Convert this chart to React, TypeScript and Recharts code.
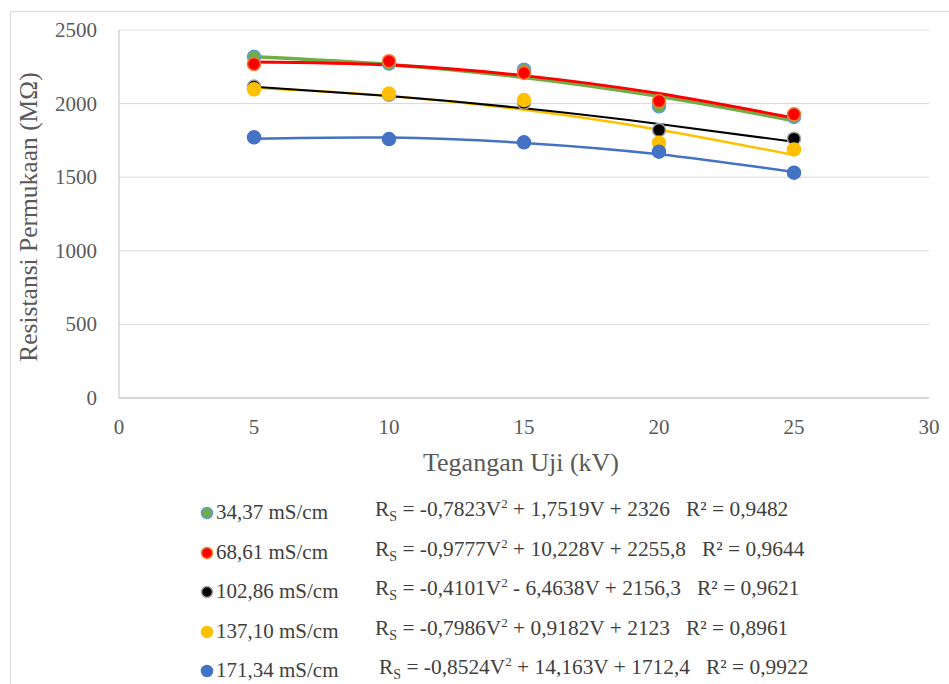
import React from "react";
import {
  ComposedChart,
  Scatter,
  Line,
  XAxis,
  YAxis,
  CartesianGrid,
} from "recharts";

// Tegangan uji (kV)
const voltages = [5, 10, 15, 20, 25];

const meas3437 = [2318, 2272, 2230, 1982, 1909];
const meas6861 = [2269, 2288, 2208, 2017, 1927];
const meas10286 = [2116, 2060, 2005, 1820, 1762];
const meas13710 = [2097, 2068, 2024, 1734, 1689];
const meas17134 = [1771, 1759, 1737, 1673, 1531];

// Polynomial trendlines, values
const trend3437 = [2318, 2266, 2178, 2049, 1884];
const trend6861 = [2282, 2262, 2190, 2068, 1902];
const trend10286 = [2114, 2051, 1968, 1862, 1740];
const trend13710 = [2107, 2052, 1958, 1823, 1650];
const trend17134 = [1762, 1769, 1733, 1656, 1535];

const xTicks = [0, 5, 10, 15, 20, 25, 30];
const yTicks = [0, 500, 1000, 1500, 2000, 2500];

const seriesLabels = [
  "34,37 mS/cm",
  "68,61 mS/cm",
  "102,86 mS/cm",
  "137,10 mS/cm",
  "171,34 mS/cm",
];
const eqCoefA = ["-0,7823", "-0,9777", "-0,4101", "-0,7986", "-0,8524"];
const eqCoefB = ["+ 1,7519", "+ 10,228", "- 6,4638", "+ 0,9182", "+ 14,163"];
const eqCoefC = ["2326", "2255,8", "2156,3", "2123", "1712,4"];
const rSquared = ["0,9482", "0,9644", "0,9621", "0,8961", "0,9922"];

const toPts = (vals: number[]) => voltages.map((x, i) => ({ x, y: vals[i] }));

const markerStyles = [
  { fill: "#70AD47", stroke: "#5B9BD5" },
  { fill: "#FF0000", stroke: "#ED7D31" },
  { fill: "#000000", stroke: "#A5A5A5" },
  { fill: "#FFC000", stroke: "#FFC000" },
  { fill: "#4472C4", stroke: "#4472C4" },
];

const measured = [meas3437, meas6861, meas10286, meas13710, meas17134];

const FONT = "Liberation Serif";
const txt = { fontFamily: FONT, fill: "#595959" };

const dot = (fill: string, stroke: string) => (props: any) => (
  <circle cx={props.cx} cy={props.cy} r={6.5} fill={fill} stroke={stroke} strokeWidth={1.5} />
);

const XTick = (props: any) => (
  <text x={props.x} y={props.y + 18} textAnchor="middle" fontSize={21} fontFamily={FONT} style={txt}>
    {props.payload.value}
  </text>
);

const YTick = (props: any) => (
  <text x={props.x - 2} y={props.y + 7} textAnchor="end" fontSize={21} fontFamily={FONT} style={txt}>
    {props.payload.value}
  </text>
);

const XTitle = (props: any) => {
  const vb = props.viewBox;
  return (
    <text x={vb.x + vb.width / 2 - 3} y={vb.y + 73} textAnchor="middle" fontSize={26} fontFamily={FONT} style={txt}>
      Tegangan Uji (kV)
    </text>
  );
};

const YTitle = (props: any) => {
  const vb = props.viewBox;
  const cy = vb.y + vb.height / 2 + 3;
  return (
    <text
      x={37}
      y={cy}
      textAnchor="middle"
      fontSize={25.5}
      fontFamily={FONT}
      style={txt}
      transform={`rotate(-90, 37, ${cy})`}
    >
      Resistansi Permukaan (MΩ)
    </text>
  );
};

export default function App() {
  return (
    <div
      style={{
        position: "absolute",
        left: 0,
        top: 0,
        width: 949,
        height: 684,
        background: "#fff",
        fontFamily: FONT,
        overflow: "hidden",
      }}
    >
      <div
        style={{
          position: "absolute",
          left: 10,
          top: 11,
          width: 960,
          height: 700,
          border: "1px solid #D9D9D9",
        }}
      />
      <ComposedChart
        width={949}
        height={684}
        margin={{ top: 30, right: 20, left: 0, bottom: 226 }}
        style={{ position: "absolute", left: 0, top: 0 }}
      >
        <CartesianGrid vertical={false} stroke="#D9D9D9" strokeWidth={1} />
        <XAxis
          type="number"
          dataKey="x"
          domain={[0, 30]}
          ticks={xTicks}
          height={60}
          axisLine={{ stroke: "#BFBFBF" }}
          tickLine={false}
          tick={<XTick />}
          tickMargin={12}
          label={<XTitle />}
        />
        <YAxis
          type="number"
          dataKey="y"
          domain={[0, 2500]}
          ticks={yTicks}
          width={119}
          axisLine={{ stroke: "#BFBFBF" }}
          tickLine={false}
          tick={<YTick />}
          tickMargin={14}
          label={<YTitle />}
        />
        {measured.map((vals, i) => (
          <Scatter
            key={"m" + i}
            data={toPts(vals)}
            dataKey="y"
            isAnimationActive={false}
            shape={dot(markerStyles[i].fill, markerStyles[i].stroke)}
          />
        ))}
        <Line data={toPts(trend17134)} dataKey="y" type="natural" stroke="#4472C4" strokeWidth={2.5} dot={false} isAnimationActive={false} />
        <Line data={toPts(trend13710)} dataKey="y" type="natural" stroke="#FFC000" strokeWidth={2.5} dot={false} isAnimationActive={false} />
        <Line data={toPts(trend10286)} dataKey="y" type="natural" stroke="#000000" strokeWidth={2} dot={false} isAnimationActive={false} />
        <Line data={toPts(trend3437)} dataKey="y" type="natural" stroke="#70AD47" strokeWidth={3.5} dot={false} isAnimationActive={false} />
        <Line data={toPts(trend6861)} dataKey="y" type="natural" stroke="#FF0000" strokeWidth={3} dot={false} isAnimationActive={false} />
      </ComposedChart>

      {seriesLabels.map((label, i) => {
        const top = 500 + i * 39.5;
        return (
          <div key={label} style={{ position: "absolute", left: 0, top, width: 949, height: 30 }}>
            <svg style={{ position: "absolute", left: 199, top: 5 }} width={16} height={16}>
              <circle cx={8} cy={8} r={5.5} fill={markerStyles[i].fill} stroke={markerStyles[i].stroke} strokeWidth={1.5} />
            </svg>
            <span style={{ position: "absolute", left: 216, top: 0, fontSize: 21, color: "#404040", whiteSpace: "nowrap" }}>
              {label}
            </span>
            <span
              style={{
                position: "absolute",
                left: i === 4 ? 379 : 375,
                top: -4,
                fontSize: 21.4,
                color: "#404040",
                whiteSpace: "nowrap",
              }}
            >
              R<sub style={{ fontSize: 14 }}>S</sub> = {eqCoefA[i]}V<sup style={{ fontSize: 13 }}>2</sup> {eqCoefB[i]}V + {eqCoefC[i]}&nbsp;&nbsp; R² = {rSquared[i]}
            </span>
          </div>
        );
      })}
    </div>
  );
}
